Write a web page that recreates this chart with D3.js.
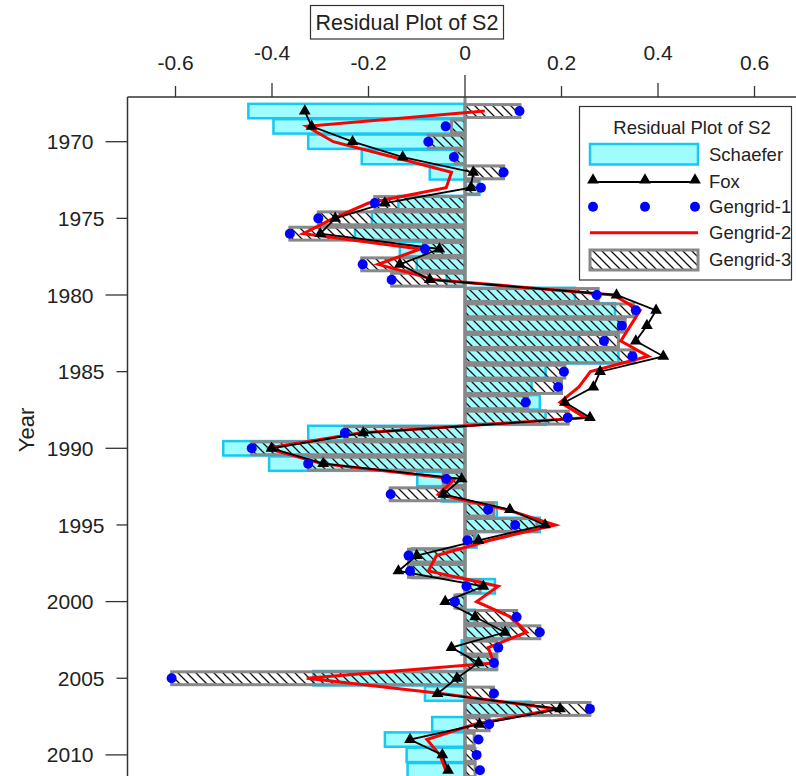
<!DOCTYPE html>
<html><head><meta charset="utf-8">
<script src="https://cdn.jsdelivr.net/npm/d3@7"></script>
<style>
body{margin:0;background:#fff}
svg{display:block}
text{font-family:"Liberation Sans",Arial,Helvetica,sans-serif;fill:#222}
</style>
</head><body>
<svg id="c" width="796" height="776"></svg>
<script>
const years = d3.range(1968, 2012);
const schaefer = [-0.449,-0.397,-0.325,-0.214,-0.073,0.030,-0.138,-0.193,-0.228,-0.135,-0.100,-0.038,
  0.228,0.311,0.318,0.235,0.318,0.167,0.138,0.155,0.167,-0.325,-0.501,-0.406,-0.099,-0.048,
  0.066,0.155,0.024,-0.110,-0.110,0.062,-0.017,0.020,0.090,-0.007,0.066,-0.314,-0.083,0.135,
  -0.068,-0.166,-0.121,-0.119];
const fox = [-0.332,-0.318,-0.233,-0.129,0.017,0.012,-0.166,-0.269,-0.300,-0.053,-0.135,-0.073,
  0.314,0.396,0.377,0.354,0.411,0.280,0.266,0.207,0.259,-0.211,-0.401,-0.294,-0.007,-0.045,
  0.093,0.166,0.028,-0.100,-0.138,0.038,-0.041,0.021,0.083,-0.028,0.028,-0.017,-0.057,0.197,
  0.030,-0.114,-0.047,-0.035];
const gengrid1 = [0.113,-0.040,-0.076,-0.023,0.080,0.033,-0.187,-0.304,-0.363,-0.083,-0.212,-0.152,
  0.273,0.354,0.325,0.288,0.347,0.205,0.193,0.126,0.213,-0.249,-0.442,-0.325,-0.039,-0.154,
  0.048,0.104,0.005,-0.117,-0.114,0.003,-0.021,0.107,0.155,0.069,0.060,-0.608,0.060,0.259,
  0.050,0.028,0.024,0.031];
const gengrid2 = [0.041,-0.328,-0.273,-0.149,-0.028,-0.039,-0.200,-0.273,-0.335,-0.093,-0.180,-0.062,
  0.307,0.363,0.343,0.323,0.380,0.260,0.236,0.197,0.249,-0.218,-0.410,-0.297,-0.021,-0.055,
  0.086,0.187,0.052,-0.059,-0.076,0.069,0.024,0.095,0.128,0.048,0.060,-0.328,-0.050,0.190,
  0.020,-0.079,-0.052,-0.040];
const gengrid3 = [0.114,-0.028,-0.076,-0.020,0.080,0.028,-0.187,-0.304,-0.363,-0.086,-0.214,-0.152,
  0.276,0.349,0.332,0.318,0.352,0.207,0.200,0.130,0.214,-0.249,-0.442,-0.325,-0.045,-0.155,
  0.059,0.149,0.020,-0.117,-0.117,0.031,-0.021,0.107,0.155,0.066,0.066,-0.608,0.059,0.259,
  0.050,0.019,0.021,0.021];
const xTicks = [-0.6,-0.4,-0.2,0,0.2,0.4,0.6];
const xTickLabels = ["-0.6","-0.4","-0.2","0","0.2","0.4","0.6"];
const yTicks = [1970,1975,1980,1985,1990,1995,2000,2005,2010];
const seriesNames = ["Schaefer","Fox","Gengrid-1","Gengrid-2","Gengrid-3"];
const chartTitle = "Residual Plot of S2";

const svg = d3.select("#c");
const x = d3.scaleLinear().domain([-0.7,0.7]).range([127.25,802.75]);
const y = d3.scaleLinear().domain([1970,2010]).range([141.7,754.9]);
const plotTop = 97, plotLeft = 127.5;
const step = y(1971)-y(1970);

const defs = svg.append("defs");
const pat = defs.append("pattern").attr("id","hatch").attr("patternUnits","userSpaceOnUse")
  .attr("width",9).attr("height",9);
pat.append("path").attr("d","M0,0L9,9M-3,6L3,12M6,-3L12,3")
  .attr("stroke","#111").attr("stroke-width",1.3).attr("fill","none");
defs.append("clipPath").attr("id","plot").append("rect")
  .attr("x",plotLeft).attr("y",plotTop).attr("width",800).attr("height",800);

const g = svg.append("g").attr("clip-path","url(#plot)");
const data = years.map((yr,i)=>({yr, s:schaefer[i], f:fox[i], g1:gengrid1[i], g2:gengrid2[i], g3:gengrid3[i]}));

// Schaefer bars
g.selectAll("rect.sch").data(data).join("rect").attr("class","sch")
  .attr("x",d=>Math.min(x(0),x(d.s))).attr("width",d=>Math.abs(x(d.s)-x(0)))
  .attr("y",d=>y(d.yr)-step*0.47).attr("height",step*0.94)
  .attr("fill","#9ffcff").attr("stroke","#18c8f2").attr("stroke-width",2.5);

// zero line
g.append("line").attr("x1",x(0)).attr("x2",x(0)).attr("y1",plotTop).attr("y2",800)
  .attr("stroke","#888").attr("stroke-width",3);

// Gengrid-3 hatched bars
g.selectAll("rect.g3").data(data).join("rect").attr("class","g3")
  .attr("x",d=>Math.min(x(0),x(d.g3))).attr("width",d=>Math.abs(x(d.g3)-x(0)))
  .attr("y",d=>y(d.yr)-step*0.42).attr("height",step*0.84)
  .attr("fill","url(#hatch)").attr("stroke","#888").attr("stroke-width",3);

// Gengrid-2 red line
g.append("path").datum(data)
  .attr("d",d3.line().x(d=>x(d.g2)).y(d=>y(d.yr)))
  .attr("fill","none").attr("stroke","#ff0000").attr("stroke-width",3);

// Fox line
g.append("path").datum(data)
  .attr("d",d3.line().x(d=>x(d.f)).y(d=>y(d.yr)))
  .attr("fill","none").attr("stroke","#000").attr("stroke-width",1.8);
const tri = d3.symbol().type(d3.symbolTriangle).size(60);
g.selectAll("path.tri").data(data).join("path").attr("class","tri")
  .attr("d",tri).attr("transform",d=>`translate(${x(d.f)},${y(d.yr)})`).attr("fill","#000");

// Gengrid-1 dots
g.selectAll("circle.g1").data(data).join("circle").attr("class","g1")
  .attr("cx",d=>x(d.g1)).attr("cy",d=>y(d.yr)).attr("r",5).attr("fill","#0000ff");

// frame
svg.append("line").attr("x1",plotLeft).attr("x2",800).attr("y1",plotTop).attr("y2",plotTop)
  .attr("stroke","#333").attr("stroke-width",1.5);
svg.append("line").attr("x1",plotLeft).attr("x2",plotLeft).attr("y1",plotTop).attr("y2",800)
  .attr("stroke","#333").attr("stroke-width",1.5);

// X axis (top)
const isMajorX = v => Math.abs(Math.round(v*10)) % 4 === 0;
const xa = svg.append("g");
xa.selectAll("line").data(xTicks).join("line")
  .attr("x1",d=>x(d)).attr("x2",d=>x(d)).attr("y1",plotTop)
  .attr("y2",d=> d===0 ? plotTop-22 : (isMajorX(d)? plotTop-14 : plotTop-11))
  .attr("stroke","#333").attr("stroke-width",1.3);
xa.selectAll("text").data(xTicks).join("text")
  .attr("x",d=>x(d)).attr("y",d=>isMajorX(d)?60:70)
  .attr("text-anchor","middle").attr("font-size",21)
  .text((d,i)=>xTickLabels[i]);

// Y axis (left)
const ya = svg.append("g");
ya.selectAll("line").data(yTicks).join("line")
  .attr("x1",plotLeft).attr("x2",d=> d%10===0 ? plotLeft-22 : plotLeft-11)
  .attr("y1",d=>y(d)).attr("y2",d=>y(d))
  .attr("stroke","#333").attr("stroke-width",1.3);
ya.selectAll("text").data(yTicks).join("text")
  .attr("x",d=> d%10===0 ? 93.5 : 104.5).attr("y",d=>y(d)).attr("dy","0.36em")
  .attr("text-anchor","end").attr("font-size",21).text(d=>d);
svg.append("text").attr("transform","translate(34,430) rotate(-90)")
  .attr("text-anchor","middle").attr("font-size",22).text("Year");

// Title box
svg.append("rect").attr("x",310.5).attr("y",5.5).attr("width",193).attr("height",33.5)
  .attr("fill","#fff").attr("stroke","#333").attr("stroke-width",1.2);
svg.append("text").attr("x",407).attr("y",30).attr("text-anchor","middle")
  .attr("font-size",21.5).text(chartTitle);

// Legend
const lg = svg.append("g");
lg.append("rect").attr("x",579.5).attr("y",106.5).attr("width",212).attr("height",173.5)
  .attr("fill","#fff").attr("stroke","#333").attr("stroke-width",1.2);
lg.append("text").attr("x",692).attr("y",127.5).attr("dy","0.36em").attr("text-anchor","middle")
  .attr("font-size",18.5).text(chartTitle);
const ly = [154.3,181,206.7,232.7,259.8];
lg.append("rect").attr("x",590).attr("y",144).attr("width",108).attr("height",20.5)
  .attr("fill","#9ffcff").attr("stroke","#18c8f2").attr("stroke-width",2.5);
lg.append("line").attr("x1",592).attr("x2",696).attr("y1",ly[1]+1).attr("y2",ly[1]+1)
  .attr("stroke","#000").attr("stroke-width",1.8);
[593,645,695].forEach(px=>{
  lg.append("path").attr("d",tri).attr("transform",`translate(${px},${ly[1]-1})`).attr("fill","#000");
  lg.append("circle").attr("cx",px).attr("cy",ly[2]).attr("r",5).attr("fill","#0000ff");
});
lg.append("line").attr("x1",590).attr("x2",698).attr("y1",ly[3]).attr("y2",ly[3])
  .attr("stroke","#ff0000").attr("stroke-width",3);
lg.append("rect").attr("x",590).attr("y",250).attr("width",108).attr("height",20)
  .attr("fill","url(#hatch)").attr("stroke","#888").attr("stroke-width",3);
seriesNames.forEach((n,i)=>{
  lg.append("text").attr("x",709).attr("y",ly[i]).attr("dy","0.36em")
    .attr("font-size",18.5).text(n);
});
</script>
</body></html>
